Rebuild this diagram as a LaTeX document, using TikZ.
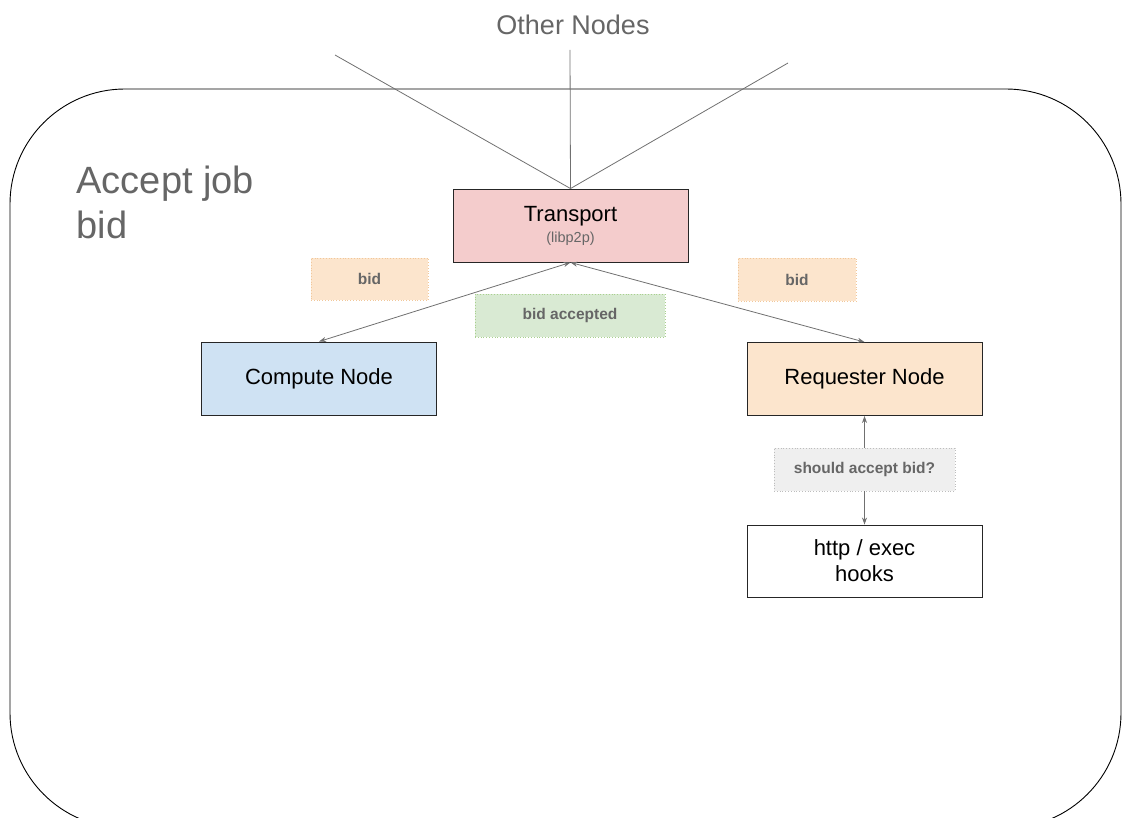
\documentclass[tikz,border=0pt]{standalone}
\usepackage{fontspec}
\setmainfont{Liberation Sans}
\usetikzlibrary{arrows.meta}

\definecolor{textgray}{HTML}{666666}
\definecolor{linegray}{HTML}{707070}
\definecolor{transportfill}{HTML}{F4CCCC}
\definecolor{computefill}{HTML}{CFE2F3}
\definecolor{requesterfill}{HTML}{FCE5CD}
\definecolor{bidline}{HTML}{F1C79A}
\definecolor{acceptfill}{HTML}{D9EAD3}
\definecolor{acceptline}{HTML}{A9D08E}
\definecolor{askfill}{HTML}{EFEFEF}
\definecolor{askline}{HTML}{BDBDBD}

\tikzset{
  box/.style={draw=black!85, line width=0.9pt, minimum width=235, minimum height=73,
    align=center, font=\fontsize{22}{26}\selectfont},
  tag/.style={dotted, line width=0.8pt, minimum height=43, text=textgray,
    font=\bfseries\fontsize{15.5}{18}\selectfont},
  link/.style={draw=linegray, line width=0.8pt, {Stealth[length=7pt,width=5pt]}-{Stealth[length=7pt,width=5pt]}}
}

\begin{document}
\begin{tikzpicture}[x=1pt,y=-1pt]
\useasboundingbox (0,0) rectangle (1124,818);

% Draw outer frame
\draw[line width=0.9pt, rounded corners=115pt] (10,89) rectangle (1121,828);

% Draw title
\node[anchor=north west, text=textgray, align=left, font=\fontsize{38}{45}\selectfont] (title) at (73,162) {Accept job\\bid};

% Draw other nodes
\node[text=textgray, font=\fontsize{27}{30}\selectfont] (other) at (573,25) {Other Nodes};
\coordinate (o1) at (335,55);
\coordinate (o2) at (570,50);
\coordinate (o3) at (788,63);

% Draw main boxes
\node[box, fill=transportfill] (transport) at (570.5,225.5) {Transport\\[-5pt]{\color{textgray}\fontsize{14.5}{17}\selectfont (libp2p)}};
\node[box, fill=computefill] (compute) at (319,378.5) {Compute Node};
\node[box, fill=requesterfill] (requester) at (864.5,379) {Requester Node};
\node[box, fill=white, minimum height=72] (hooks) at (864.5,561) {http / exec\\hooks};

% Draw message tags
\node[tag, draw=bidline, fill=requesterfill, minimum width=117, minimum height=42] (bidleft) at (369.5,279) {bid};
\node[tag, draw=acceptline, fill=acceptfill, minimum width=190] (accepted) at (570,315.5) {bid accepted};
\node[tag, draw=bidline, fill=requesterfill, minimum width=118] (bidright) at (797,279.5) {bid};
\node[tag, draw=askline, fill=askfill, minimum width=181] (ask) at (864.5,469.5) {should accept bid?};

% Draw connections
\draw[draw=linegray, line width=0.8pt] (transport.north) -- (o1);
\draw[draw=linegray, line width=0.8pt] (transport.north) -- (o2);
\draw[draw=linegray, line width=0.8pt] (transport.north) -- (o3);
\draw[link] (compute.north) -- (transport.south);
\draw[link] (transport.south) -- (requester.north);
\draw[draw=linegray, line width=0.8pt, -{Stealth[length=7pt,width=5pt]}] (ask.north) -- (requester.south);
\draw[draw=linegray, line width=0.8pt, -{Stealth[length=7pt,width=5pt]}] (ask.south) -- (hooks.north);

\end{tikzpicture}
\end{document}
